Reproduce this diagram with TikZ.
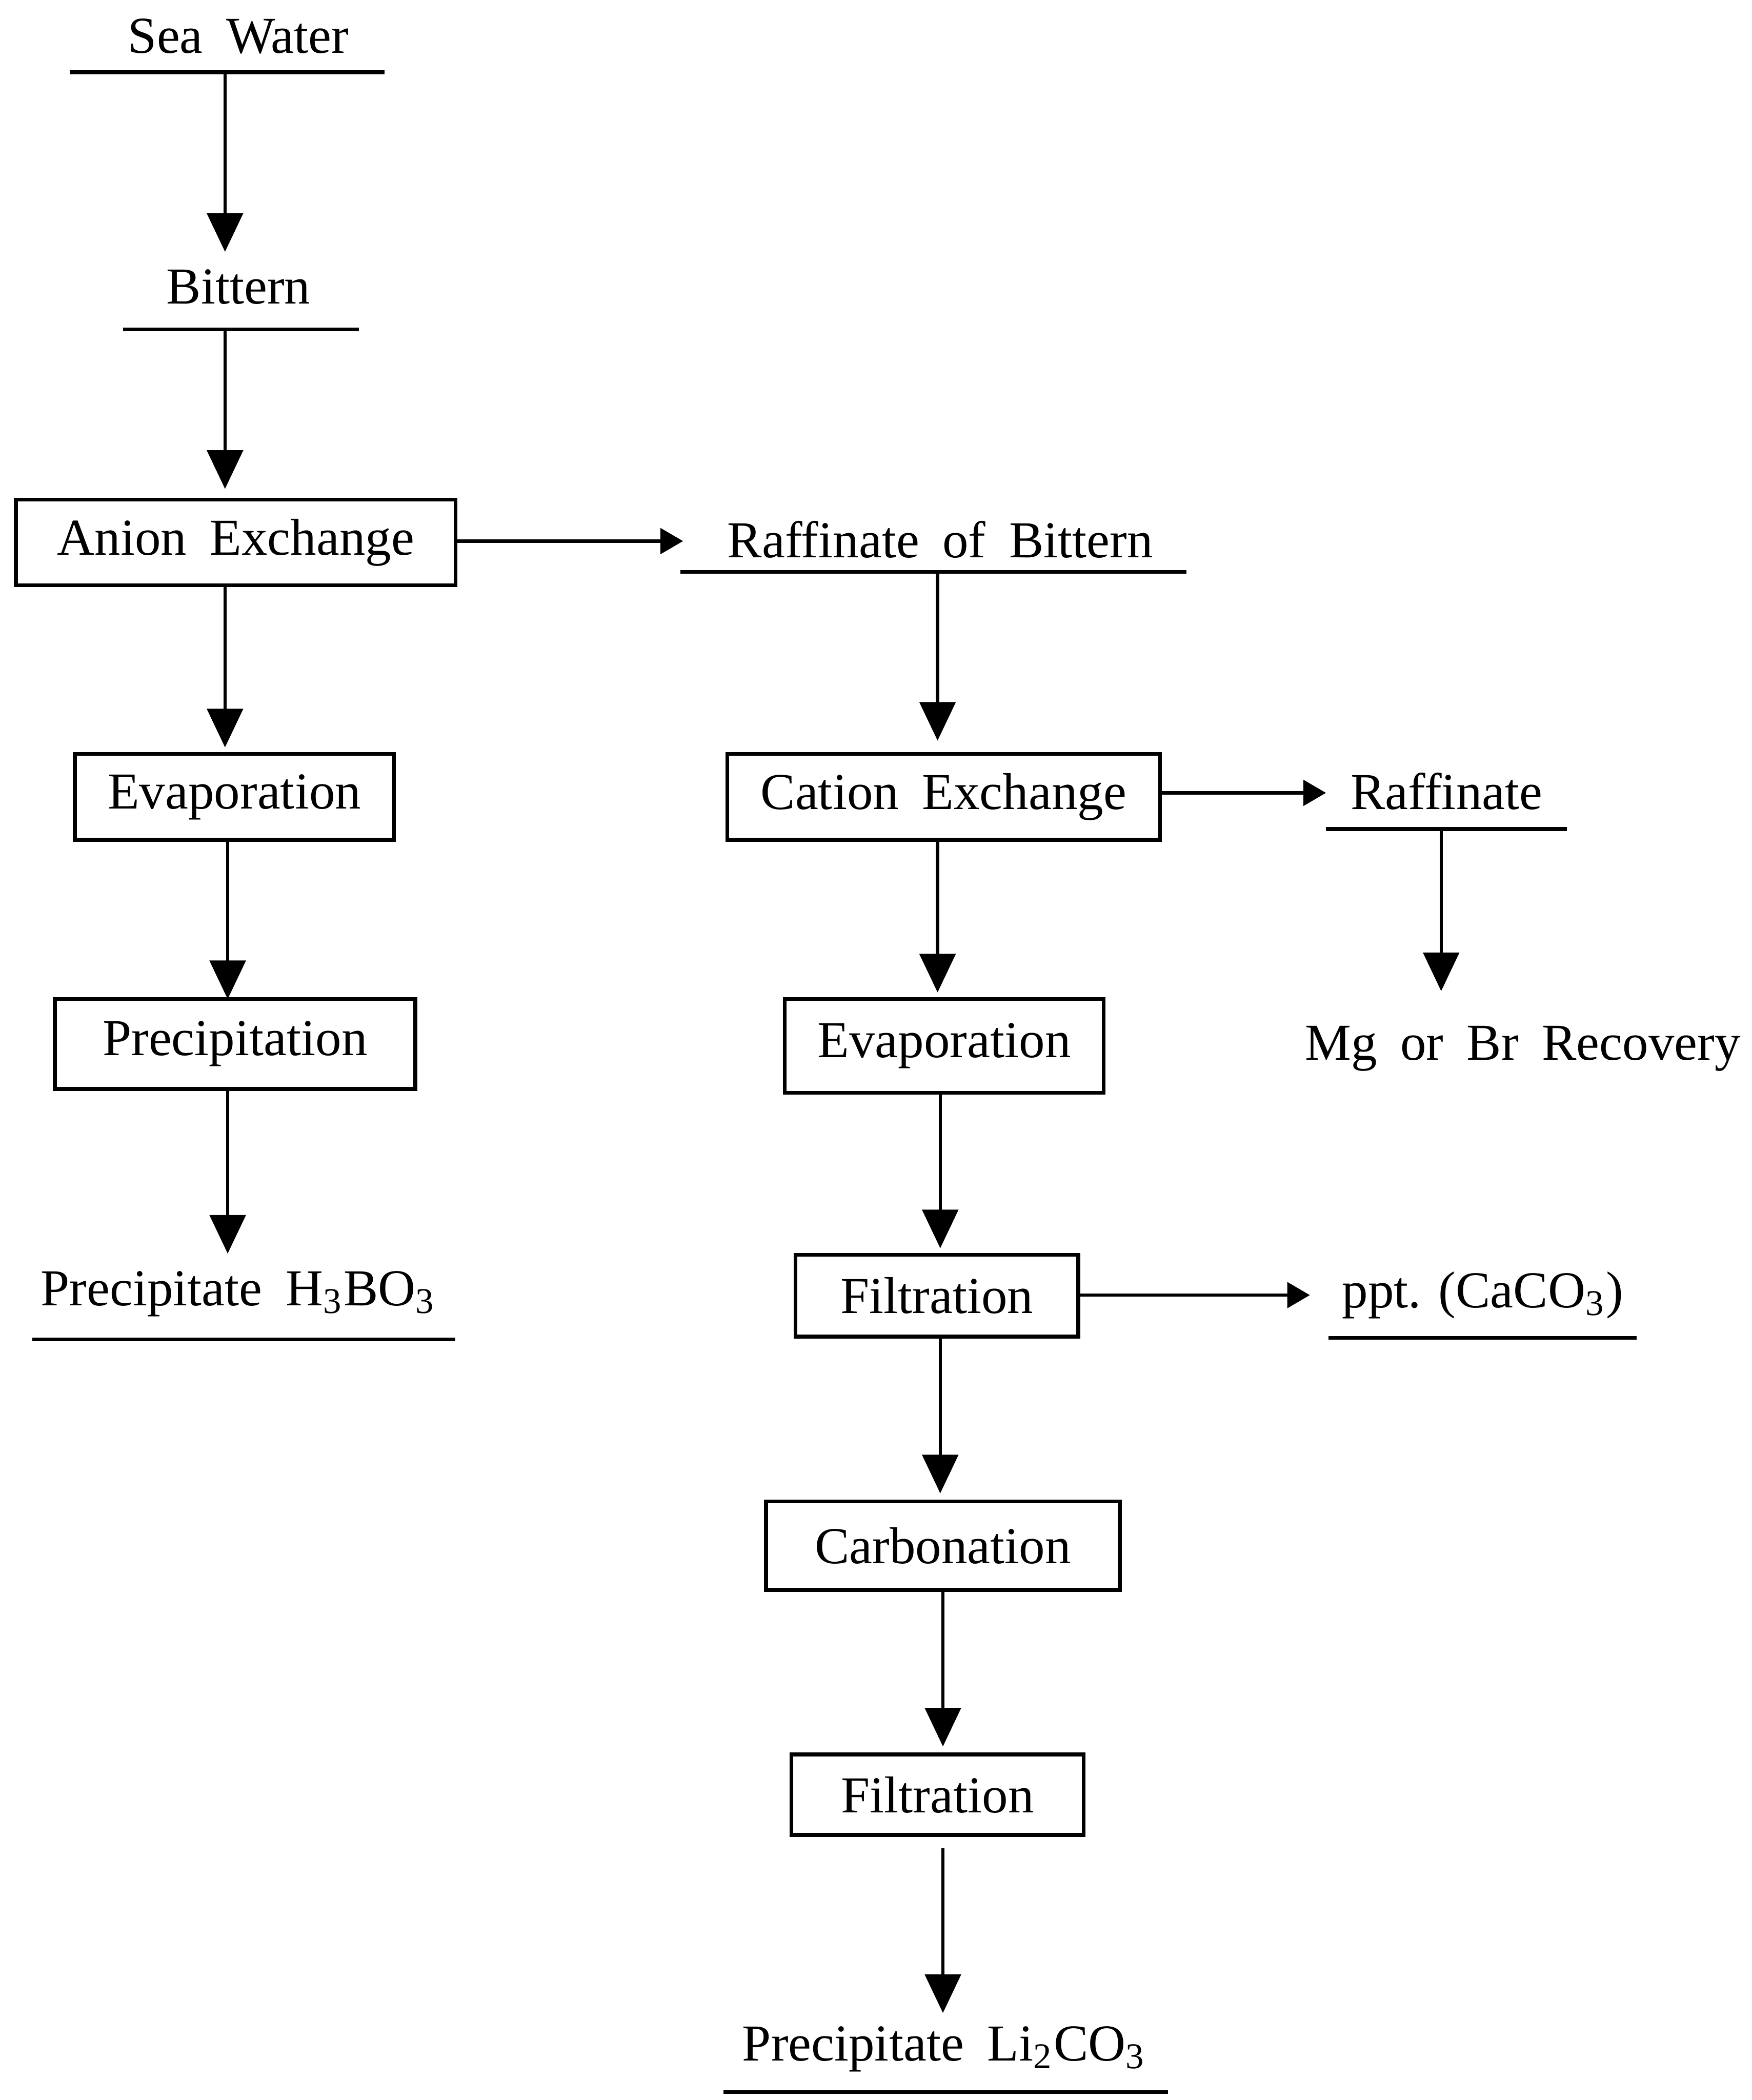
\documentclass[tikz,border=0pt]{standalone}
\usepackage{fontspec}
\setmainfont{Liberation Serif}
\usetikzlibrary{arrows.meta}
\newcommand\wsp{\hspace{0.45em}}
\begin{document}
\begin{tikzpicture}[x=0.01cm,y=-0.01cm,
  every node/.style={font=\fontsize{11}{13}\selectfont, inner sep=0pt},
  box/.style={draw, line width=0.8pt},
  uline/.style={line width=0.8pt},
  vflow/.style={line width=0.7pt, -{Triangle[width=7.6pt,length=8.2pt]}},
  hflow/.style={line width=0.7pt, -{Triangle[width=5.4pt,length=4.8pt]}}]
\useasboundingbox (0,0) rectangle (1308,1568);

% left column
\node (sea) at (178,27) {Sea\wsp Water};
\coordinate (seaL) at (52,54); \coordinate (seaR) at (287,54);
\draw[uline] (seaL) -- (seaR);
\coordinate (seaA) at (168,54);

\node (bit) at (178,214) {Bittern};
\coordinate (bitL) at (92,246); \coordinate (bitR) at (268,246);
\draw[uline] (bitL) -- (bitR);
\coordinate (bitT) at (168,188);
\coordinate (bitA) at (168,246);

\node[box, minimum width=3.28cm, minimum height=0.64cm] (anion) at (176,405) {Anion\wsp Exchange};
\coordinate (anionT) at (168,365);
\coordinate (anionB) at (168,437);
\coordinate (anionR) at (340,404);

\node (raf) at (702,403) {Raffinate\wsp of\wsp Bittern};
\draw[uline] (508,427) -- (886,427);
\coordinate (rafT) at (510,404);
\coordinate (rafA) at (700,427);

\node[box, minimum width=2.38cm, minimum height=0.64cm] (evl) at (175,595) {Evaporation};
\coordinate (evlT) at (168,558);
\coordinate (evlB) at (170,627);

\node[box, minimum width=2.69cm, minimum height=0.67cm] (pre) at (175.5,779.5) {Precipitation};
\coordinate (preT) at (170,746);
\coordinate (preB) at (170,813);

\node (hbo) at (178,966) {Precipitate\wsp H\textsubscript{3}BO\textsubscript{3}};
\draw[uline] (24,1000) -- (340,1000);
\coordinate (hboT) at (170,936);

% right column
\node[box, minimum width=3.23cm, minimum height=0.64cm] (cat) at (704.5,595) {Cation\wsp Exchange};
\coordinate (catT) at (700,553);
\coordinate (catR) at (866,592);
\coordinate (catB) at (700,627);

\node (raf2) at (1080,591) {Raffinate};
\draw[uline] (990,619) -- (1170,619);
\coordinate (raf2T) at (990,592);
\coordinate (raf2A) at (1076,619);

\node (mg) at (1137,783) {Mg\wsp or\wsp Br\wsp Recovery};
\coordinate (mgT) at (1076,740);

\node[box, minimum width=2.38cm, minimum height=0.70cm] (evr) at (705,781) {Evaporation};
\coordinate (evrT) at (700,741);
\coordinate (evrB) at (702,816);

\node[box, minimum width=2.11cm, minimum height=0.61cm] (fil1) at (699.5,967.5) {Filtration};
\coordinate (fil1T) at (702,932);
\coordinate (fil1R) at (805,967);
\coordinate (fil1B) at (702,998);

\node (ppt) at (1107,967) {ppt. (CaCO\textsubscript{3})};
\draw[uline] (992,999) -- (1222,999);
\coordinate (pptT) at (978,967);

\node[box, minimum width=2.64cm, minimum height=0.66cm] (carb) at (704,1154) {Carbonation};
\coordinate (carbT) at (702,1115);
\coordinate (carbB) at (704,1187);

\node[box, minimum width=2.18cm, minimum height=0.60cm] (fil2) at (700,1340) {Filtration};
\coordinate (fil2T) at (704,1304);
\coordinate (fil2B) at (704,1380);

\node (li) at (705,1530) {Precipitate\wsp Li\textsubscript{2}CO\textsubscript{3}};
\draw[uline] (540,1562) -- (872,1562);
\coordinate (liT) at (704,1503);

% connectors
\draw[vflow] (seaA) -- (bitT);
\draw[vflow] (bitA) -- (anionT);
\draw[hflow] (anionR) -- (rafT);
\draw[vflow] (anionB) -- (evlT);
\draw[vflow] (evlB) -- (preT);
\draw[vflow] (preB) -- (hboT);
\draw[vflow] (rafA) -- (catT);
\draw[hflow] (catR) -- (raf2T);
\draw[vflow] (raf2A) -- (mgT);
\draw[vflow] (catB) -- (evrT);
\draw[vflow] (evrB) -- (fil1T);
\draw[hflow] (fil1R) -- (pptT);
\draw[vflow] (fil1B) -- (carbT);
\draw[vflow] (carbB) -- (fil2T);
\draw[vflow] (fil2B) -- (liT);
\end{tikzpicture}
\end{document}
